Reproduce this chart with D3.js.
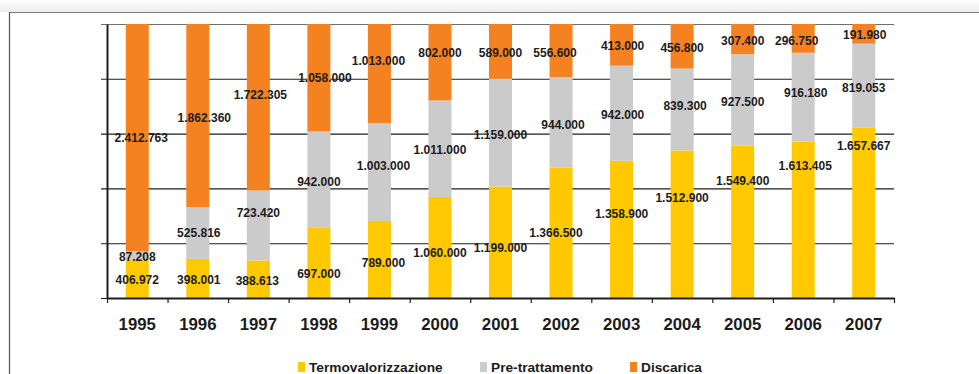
<!DOCTYPE html>
<html>
<head>
<meta charset="utf-8">
<script src="https://cdn.jsdelivr.net/npm/d3@7/dist/d3.min.js"></script>
<style>
  html, body { margin: 0; padding: 0; background: #fff; }
  svg { display: block; font-family: "Liberation Sans", Arial, sans-serif; }
</style>
</head>
<body>
<svg id="chart" width="979" height="374"></svg>
<script>
// Rifiuti urbani per destinazione, 1995-2007 (tonnellate)
const years = ["1995","1996","1997","1998","1999","2000","2001","2002","2003","2004","2005","2006","2007"];
const termovalorizzazione = [406972, 398001, 388613, 697000, 789000, 1060000, 1199000, 1366500, 1358900, 1512900, 1549400, 1613405, 1657667];
const pretrattamento = [87208, 525816, 723420, 942000, 1003000, 1011000, 1159000, 944000, 942000, 839300, 927500, 916180, 819053];
const discarica = [2412763, 1862360, 1722305, 1058000, 1013000, 802000, 589000, 556600, 413000, 456800, 307400, 296750, 191980];
const seriesNames = ["Termovalorizzazione", "Pre-trattamento", "Discarica"];
const yTicks = [0, 0.2, 0.4, 0.6, 0.8, 1];

const colors = { "Termovalorizzazione": "#FFC900", "Pre-trattamento": "#CBCBCB", "Discarica": "#F58220" };

// hand-placed label offsets [dx, dy] per series and year
const labelNudge = {
  "Termovalorizzazione": [[0,1],[1,1],[-1,1],[0,11],[4,3.5],[0,5.5],[0,5.7],[-5,0],[0,-16],[0,-26.5],[0,-41],[2,-54],[0,-67]],
  "Pre-trattamento":     [[0,1],[1,0],[0,-13],[0,2],[4,-6],[0,1],[0,2],[2,2],[1,1],[3,-3.5],[0,2],[2.5,-4.5],[0,1.5]],
  "Discarica":           [[4,0],[6.5,2],[2,-13],[6,0],[-1,-13],[0,-10],[0,1],[-6,2],[1,1],[0,1],[0,1.5],[-6.5,2],[1,1]]
};

const svg = d3.select("#chart");
const W = 979, H = 374;
const plot = { left: 107, right: 894, top: 24, bottom: 298 };

// frame with a soft shadow along the top
const defs = svg.append("defs");
const grad = defs.append("linearGradient").attr("id", "topShade").attr("x1", 0).attr("y1", 0).attr("x2", 0).attr("y2", 1);
grad.append("stop").attr("offset", "0%").attr("stop-color", "#ffffff");
grad.append("stop").attr("offset", "100%").attr("stop-color", "#ececec");
svg.append("rect").attr("x", 0).attr("y", 0).attr("width", W).attr("height", 12).attr("fill", "url(#topShade)");
svg.append("line").attr("x1", 9).attr("x2", W).attr("y1", 12.5).attr("y2", 12.5).attr("stroke", "#7a7a7a").attr("stroke-width", 1.2);
svg.append("line").attr("x1", 9.5).attr("x2", 9.5).attr("y1", 12).attr("y2", H).attr("stroke", "#555").attr("stroke-width", 1.2);

// data table + percent stack
const table = years.map((yr, i) => ({
  year: yr,
  "Termovalorizzazione": termovalorizzazione[i],
  "Pre-trattamento": pretrattamento[i],
  "Discarica": discarica[i]
}));
const stacked = d3.stack().keys(seriesNames).offset(d3.stackOffsetExpand)(table);

const x = d3.scaleBand().domain(years).range([plot.left, plot.right]).paddingInner(0.62).paddingOuter(0.31);
const y = d3.scaleLinear().domain([0, 1]).range([plot.bottom, plot.top]);

// horizontal gridlines, extending past the axis as tick marks
svg.append("g")
  .attr("transform", `translate(${plot.right},0)`)
  .call(d3.axisLeft(y).tickValues(yTicks).tickSize(plot.right - plot.left + 6).tickFormat(""))
  .call(g => g.select(".domain").remove())
  .call(g => g.selectAll(".tick line")
      .attr("stroke", d => d === 1 ? "#6e6e6e" : "#1e1e1e")
      .attr("stroke-width", 1.1));

// bars
const layers = svg.append("g").selectAll("g").data(stacked).join("g")
  .attr("fill", d => colors[d.key]);
layers.selectAll("rect").data(d => d).join("rect")
  .attr("x", d => x(d.data.year))
  .attr("width", x.bandwidth())
  .attr("y", d => y(d[1]))
  .attr("height", d => y(d[0]) - y(d[1]));

// value labels inside segments
const fmt = v => d3.format(",")(v).replace(/,/g, ".");
stacked.forEach(layer => {
  svg.append("g").selectAll("text").data(layer).join("text")
    .attr("x", (d, i) => x(d.data.year) + x.bandwidth() / 2 + labelNudge[layer.key][i][0])
    .attr("y", (d, i) => (y(d[0]) + y(d[1])) / 2 + labelNudge[layer.key][i][1])
    .attr("dy", "0.36em")
    .attr("text-anchor", "middle")
    .attr("font-size", 12)
    .attr("font-weight", "bold")
    .attr("fill", "#1c1c1c")
    .text(d => fmt(d.data[layer.key]));
});

// y axis line
svg.append("g")
  .attr("transform", `translate(${plot.left},0)`)
  .call(d3.axisLeft(y).tickValues([]).tickSizeOuter(0))
  .call(g => g.select(".domain").attr("stroke", "#1e1e1e").attr("stroke-width", 2));

// x axis: category boundary ticks
const bounds = d3.scaleLinear().domain([0, years.length]).range([plot.left, plot.right]);
svg.append("g")
  .attr("transform", `translate(0,${plot.bottom})`)
  .call(d3.axisBottom(bounds).tickValues(d3.range(0, years.length + 1)).tickSize(5).tickSizeOuter(0).tickFormat(""))
  .call(g => g.select(".domain").attr("stroke", "#1e1e1e").attr("stroke-width", 2))
  .call(g => g.selectAll(".tick line").attr("stroke", "#1e1e1e").attr("stroke-width", 1.2));

// x axis: year labels
svg.append("g")
  .attr("transform", `translate(0,${plot.bottom})`)
  .call(d3.axisBottom(x).tickSize(0).tickPadding(20))
  .call(g => g.select(".domain").remove())
  .call(g => g.selectAll("text")
      .attr("font-family", "Liberation Sans, Arial, sans-serif")
      .attr("font-size", 16.8)
      .attr("font-weight", "bold")
      .attr("fill", "#1c1c1c"));

// legend
const legendX = { "Termovalorizzazione": 298, "Pre-trattamento": 480, "Discarica": 630 };
const legend = svg.append("g").selectAll("g").data(seriesNames).join("g")
  .attr("transform", d => `translate(${legendX[d]},362)`);
legend.append("rect").attr("width", 7).attr("height", 10).attr("fill", d => colors[d]);
legend.append("text")
  .attr("x", 11).attr("y", 10)
  .attr("font-size", 13.7).attr("font-weight", "bold").attr("fill", "#1c1c1c")
  .text(d => d);
</script>
</body>
</html>
